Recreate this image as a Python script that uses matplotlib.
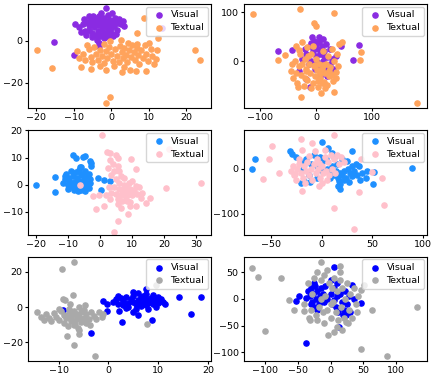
import numpy as np
import matplotlib
matplotlib.use("Agg")
import matplotlib.pyplot as plt
from matplotlib.ticker import MultipleLocator

# colours per row: (visual, textual)
row_colors = [("#8A2BE2", "#FFA35C"), ("#1E90FF", "#FFC0CB"), ("#0000FF", "#A9A9A9")]

# ---- panel 1 (top left) ----
vis1 = np.array([
    (-6.5, 9), (-6, 7.5), (-5.8, 5.5), (-5.5, 10.5), (-5, 8), (-5, 4), (-4.5, 6.5), (-4.2, 11), (-4, 9),
    (-4, 3), (-3.5, 7.5), (-3.5, 5), (-3.2, 12), (-3, 10), (-3, 2.5), (-2.5, 8.5), (-2.5, 6), (-2.2, 4),
    (-2, 11), (-2, 1.5), (-1.5, 9.5), (-1.5, 7), (-1.2, 5), (-1, 3), (-0.8, 12.5), (-0.5, 8), (-0.3, 10),
    (0, 6), (0, 4), (0.5, 9), (0.8, 7), (1, 11), (1.5, 5.5), (1.8, 8.5), (2.5, 8), (3.2, 9.4), (3.5, 7),
    (-7.5, 8.3), (-7, 5), (-8, 4.5), (-9.6, 8.3), (-6.8, 3), (-5.2, 1.8), (-4.8, 12), (-3.8, 0.5),
    (-3.2, -1), (-3.3, -2.5), (-2.8, 13.5), (-1.5, 15.7), (0.2, 13.5), (-0.7, 2), (0.5, 2.5), (1.2, 3.5),
    (-6, 12), (-7.2, 10.5), (-15.2, -0.6), (-9.9, -6.5), (13.5, 6.2), (-8.5, 6.5), (2.2, 10.5)])
txt1 = np.array([
    (-19.8, -4.4), (-15.8, -12.9), (22.3, -4.4), (23.7, -9.2), (-1.5, -29.5), (-0.4, -26.7), (8.7, 11),
    (6.9, 3.8), (12.6, 1.4), (10, -1), (12.2, -4.1), (-8.1, -12.5), (-5.4, -13.2), (-1.5, -14), (2.9, -14.9),
    (5, -14), (6.5, -14.4), (9.3, -14.4), (-8.7, -8.1), (-0.2, 0), (2.5, 0.5), (-9.2, -5), (-7.5, -6),
    (-7, -9), (-6, -4), (-5.5, -7.5), (-5, -10), (-4.5, -3), (-4, -6), (-3.5, -9), (-3, -4.5), (-2.5, -7),
    (-2, -10.5), (-1.5, -5), (-1, -8), (-0.5, -3), (0, -6), (0.5, -9.5), (1, -4), (1.5, -7), (2, -10),
    (2.3, -2.5), (2.8, -5.5), (3.2, -8), (3.5, -3.5), (4, -6.5), (4.2, -10), (4.8, -4.5), (5.2, -7.5),
    (5.5, -2), (6, -5.5), (6.3, -9), (6.8, -3.5), (7.2, -6.5), (7.5, -11), (8, -4.5), (8.5, -8), (9, -2),
    (9.3, -6), (9.8, -9.5), (10.5, -4), (11, -7), (12, -8.5), (11.5, -11), (-3, -12), (0.8, -12),
    (3.5, -12.5), (-6.5, -2), (-2, -1.5), (4.5, -1), (7, -1.5)])

# ---- panel 2 (top right) ----
vis2 = np.array([
    (-68, 20), (-43, 22), (77, 32), (67, 1.4), (-11, -52), (-18, -37), (-7, 49), (12, 45), (45, 30),
    (-10, 30), (-5, 20), (0, 35), (0, 10), (3, 25), (5, 40), (8, 15), (10, 30), (12, 0), (15, 20), (18, 35),
    (20, 8), (22, -10), (25, 25), (28, 5), (-15, 10), (-12, -5), (-8, 0), (-2, -15), (5, -8), (15, -20),
    (30, -15), (-20, 25), (-25, 5), (8, -30), (35, 10), (-3, 42), (14, 10), (2, -2), (-18, 15), (20, -30),
    (-30, -20), (26, -5), (6, 50), (-8, 38)])
txt2 = np.array([
    (-113, 96.7), (-28, 106), (32.7, 99), (-3, 78), (0, 72), (181, -86), (-27, -73), (9, -64), (33, -63),
    (-68, 1.4), (-56, 12), (80, 18), (79, 3), (46, 38.5),
    (-45, -20), (-40, -35), (-38, 0), (-35, 30), (-33, -45), (-30, -10), (-28, 15), (-26, -28), (-24, 40),
    (-22, -50), (-20, 5), (-18, -15), (-16, 28), (-15, -38), (-12, -5), (-10, -25), (-8, 15), (-6, -45),
    (-4, -10), (-2, -30), (0, 5), (2, -18), (4, -52), (6, -5), (8, -35), (10, -15), (12, 20), (14, -42),
    (16, -25), (18, -5), (20, -48), (22, 10), (24, -30), (26, -12), (28, 25), (30, -40), (32, 0), (35, -22),
    (38, 15), (40, -10), (42, 35), (-42, -5), (-36, -25), (-30, 22), (-25, -5), (-20, -35), (-14, 10),
    (-9, -55), (-5, 30), (3, -40), (7, -25), (13, -8), (17, -55), (23, -20), (29, -28), (-1, -8), (11, -45),
    (-32, -52), (36, -35), (-17, -20)])

# ---- panel 3 (middle left) ----
vis3 = np.array([
    (-19.8, 0), (-14.1, 2.8), (-14.1, -2.8), (-8.5, 11.1), (-7.6, 9.9), (-5.4, 10.2), (-4.6, 10.7),
    (-3.1, 8.6), (-2.7, 7.8), (-2.8, 6.8), (-0.7, 2.5), (0.3, -1.9), (1.3, 1.6), (3.1, 1.2), (-6.2, 6.5),
    (-3.1, 0.6), (-4.5, -2.5), (-3.5, -1.2),
    (-11, 2), (-10.5, 4), (-10, 0), (-10, -1.5), (-9.5, 2.5), (-9, 5), (-9, -0.5), (-8.5, 3), (-8, 1),
    (-8, -2), (-7.5, 4.5), (-7.5, 0.5), (-7, 2.5), (-7, -1), (-6.5, 5.5), (-6.5, 1.5), (-6, 3.5), (-6, -2),
    (-5.5, 0.5), (-5.5, 4), (-5, 2), (-5, -1), (-4.5, 5), (-4.5, 1), (-4, 3), (-4, -0.5), (-3.5, 4), (-3, 2),
    (-8.5, -1), (-9.5, 1), (-11.5, 0.5), (-10.8, 3), (-5.8, 6.5), (-6.8, -2.3)])
txt3 = np.array([
    (0.5, 18.3), (21.4, 13.2), (20.6, -1.2), (31.4, 0.6), (9.6, 9.3), (11.1, 5.6), (2.1, 12), (3.1, 11.5),
    (4.9, 11.1), (5.5, 9.9), (-2.3, -4.3), (-1.2, -9), (-0.2, -3.7), (4.4, -17.7), (5.5, -13.3), (8.6, -10.7),
    (9.3, -8), (11.1, -8), (12.7, -4.9), (14.4, -6.8), (15.6, -4.9), (11.1, -0.6), (-6.2, 0), (1.3, -7.8),
    (3, 9), (4, 7.5), (2.5, 6), (4.5, 5), (3.5, 3.5), (5.5, 7), (6, 5), (6.5, 3), (5, 2), (2.8, -1),
    (3.5, -3), (2, -4),
    (4.5, -1), (5, -3.5), (5.5, -5.5), (6, -1.5), (6.5, -4), (7, -2), (7, -6), (7.5, 0), (7.5, -3),
    (8, -4.5), (8, -1), (8.5, -2.5), (8.5, -6), (9, 0.5), (9, -3.5), (9.5, -1.5), (10, -4), (10.5, -2),
    (10, 1.5), (6, 0.5), (11.5, -3.5), (12, -1), (7.5, 2.5), (5.5, -7), (3, -5.5), (9.5, -6.5), (6.5, -8.5),
    (13, -3)])

# ---- panel 4 (middle right) ----
vis4 = np.array([
    (-69, -0.7), (-66, 20), (-31.6, 38), (-29, 33), (0.7, 58), (6, 45.6), (10.5, 34.6), (30, 38), (25, 16),
    (17, -28), (18, -46), (18, -35), (52, -7), (51, -35), (88.5, 1.5), (-20.7, -31.6), (-17, -28), (-11, -30),
    (37, 6.6), (40, -9.6), (44, -20.6), (30, -17),
    (-25, 25), (-20, 15), (-15, 20), (-10, 10), (-5, 5), (0, 15), (0, -5), (5, 0), (8, -10), (10, 5),
    (12, -15), (14, -5), (16, -20), (18, -10), (20, -15), (22, -5), (24, -20), (26, 0), (28, -10), (32, -5),
    (35, -15), (15, 10), (20, 20), (-2, 25), (4, 20), (-12, -15), (-5, -20), (22, -25), (12, 25), (30, 5),
    (45, -5), (38, -25), (8, -20), (-18, 0), (27, -30), (34, 10), (-8, 30), (16, -38)])
txt4 = np.array([
    (-57.6, -22.8), (-52, 21), (-48.7, 49), (-42, -9.6), (-20.7, 66), (12.2, 73.5), (-19, -48.5),
    (12.2, -88), (32, -133), (37, -52), (61.5, -81), (59, -20.6), (50, -8), (39, 20), (-9, 56.6), (-19, 42),
    (-2.6, -37.5), (0.7, -31.6),
    (-30, -5), (-28, 5), (-27, -15), (-25, -25), (-24, 0), (-22, 10), (-20, -10), (-18, -20), (-17, 5),
    (-15, -5), (-14, 15), (-12, -15), (-10, 0), (-9, -25), (-8, 10), (-6, -10), (-5, 20), (-4, 0), (-2, -20),
    (0, 5), (1, -10), (3, 25), (4, -5), (6, 15), (7, -15), (9, 30), (10, 0), (12, 20), (13, -10), (15, 30),
    (17, 10), (19, 25), (22, 15), (-12, 28), (-7, 38), (-22, 22), (3, 40), (-16, -32), (5, -25), (-26, -12),
    (-3, 12)])

# ---- panel 5 (bottom left) ----
vis5 = np.array([
    (18.7, 5.7), (14.1, 5.7), (16.5, -4.2), (-1.1, 3.4), (-0.3, 1.9), (-0.3, -2.3), (2.8, -8.5), (2.1, -2.3),
    (6, -4.7), (8.7, -7.2), (-3.5, -14.5), (-9.2, -1.9), (7.6, 10.4), (4.9, 8.5), (11.3, 1.9),
    (1, 3), (1.5, 4.5), (2, 2), (2.5, 5), (3, 3.5), (3, 1), (3.5, 6), (4, 2.5), (4, 0), (4.5, 4.5), (5, 3),
    (5, 6.5), (5.5, 1.5), (5.5, -1), (6, 4), (6, 2), (6.5, 5.5), (6.5, 0.5), (7, 3), (7, 6.5), (7.5, 1),
    (7.5, 4.5), (8, 2.5), (8, -1), (8.5, 5), (8.5, 3.5), (9, 1.5), (9.5, 4), (9.5, 0), (10, 2.5), (10.5, 4.5),
    (11, 3), (6, 8), (7.5, 7.5), (9, 7), (3.5, -0.5), (5, -2.5), (10, 6), (2, 6.5)])
txt5 = np.array([
    (-6.9, 25.5), (-9.4, 21.7), (-9.2, 4.7), (-7.2, 6.6), (-8.4, -16.6), (-6.9, -21.7), (-2.7, -27.9),
    (-5.9, -13.2), (-6, -15), (-14.4, -2.8), (-13.5, -5.7), (-1, -3.8), (-1.4, -5.7), (7.8, -9.4),
    (9.5, 12.3), (-8.8, 4),
    (-12.5, -4), (-12, -6), (-11, -3.5), (-10.5, -5.5), (-10, -7.5), (-9.5, -2), (-9, -4.5), (-9, -9),
    (-8.5, -6), (-8, -1), (-8, -3.5), (-7.5, -8), (-7.5, -5), (-7, -2), (-7, -10), (-6.5, -4), (-6.5, -7),
    (-6, 0), (-6, -5.5), (-5.5, -3), (-5.5, -8.5), (-5, -6), (-5, -1.5), (-4.5, -4), (-4.5, -9), (-4, -6.5),
    (-3.5, -2.5), (-3, -5), (-2.5, -7), (-2, -3), (-11.5, -8), (-10, -1), (-8.2, -11), (-6.2, -12),
    (-3.8, -10), (-7.8, 1.5), (-4.8, 1), (-13, -7.5), (-6.8, -9.5)])

# ---- panel 6 (bottom right) ----
vis6 = np.array([
    (-36.7, -83.5), (-52, -3), (-48.4, 5), (5, 59.5), (47, -7.6), (12.7, -52), (33, 27), (-25.5, 30),
    (19, -30),
    (-35, 15), (-32, 5), (-30, 20), (-28, -5), (-26, 10), (-24, 25), (-22, 0), (-20, 15), (-18, -10),
    (-16, 5), (-15, 20), (-12, 10), (-10, -5), (-8, 25), (-5, 0), (0, 10), (2, -10), (5, 20), (8, -15),
    (10, 5), (12, -25), (15, 10), (18, -5), (20, -20), (22, 15), (25, -10), (28, 5), (30, -25), (-30, -10),
    (-20, -20), (-14, -2), (0, 35), (10, 30), (-38, 2), (24, -30), (35, 0), (-25, -15), (6, -2)])
txt6 = np.array([
    (-120, 59), (-110, 42), (-75, 39), (-100, -61), (-64, -1), (-56, -21.5), (132, -15), (86.6, -107.6),
    (46, -94), (62.6, -21.5), (51, 27), (46, 16), (-14, 69.6), (14.3, 62), (-3.6, -67.7), (5, -62.7),
    (18, -58), (-40.7, -23.4), (-33, -36), (-20, -39), (-10, -45.6), (10, -52), (24, -42.4),
    (-40, -10), (-35, 30), (-30, -20), (-25, 40), (-22, -30), (-18, -15), (-15, 35), (-12, -25), (-10, 45),
    (-8, 5), (-5, -20), (-3, 30), (0, -35), (2, 20), (4, -5), (6, 40), (8, -25), (10, 15), (12, -40),
    (14, 35), (16, -15), (18, 20), (20, -35), (22, 0), (25, 30), (28, -20), (30, 10), (32, -35), (35, 20),
    (38, -10), (40, -25), (-28, 10), (-20, 50), (-5, 55), (15, 50), (-32, -40), (0, -10), (-15, 0), (42, 5),
    (27, -45)])

panels = [(vis1, txt1), (vis2, txt2), (vis3, txt3), (vis4, txt4), (vis5, txt5), (vis6, txt6)]
xlims = [(-22.2, 26.6), (-128.6, 198), (-22.4, 34.5), (-76.6, 103.6), (-16.2, 20.6), (-132, 146.6)]
ylims = [(-32.2, 17.8), (-96, 117), (-18.5, 20.1), (-145.6, 84.6), (-30.6, 28.7), (-116.5, 79.7)]
xsteps = [10, 100, 10, 50, 10, 50]
ysteps = [20, 100, 10, 100, 20, 50]

fig, axes = plt.subplots(3, 2, figsize=(4.36, 3.82), dpi=100)
plt.subplots_adjust(left=0.064, right=0.979, top=0.99, bottom=0.055, wspace=0.18, hspace=0.21)

for i, ax in enumerate(axes.flat):
    vis, txt = panels[i]
    cv, ct = row_colors[i // 2]
    ax.scatter(vis[:, 0], vis[:, 1], s=14, color=cv, label="Visual")
    ax.scatter(txt[:, 0], txt[:, 1], s=14, color=ct, label="Textual")
    ax.set_xlim(xlims[i])
    ax.set_ylim(ylims[i])
    ax.xaxis.set_major_locator(MultipleLocator(xsteps[i]))
    ax.yaxis.set_major_locator(MultipleLocator(ysteps[i]))
    ax.tick_params(labelsize=6.8, length=2.5, pad=1.2)
    ax.legend(loc="upper right", fontsize=6.8, handletextpad=0.2, borderpad=0.4, labelspacing=0.4,
              borderaxespad=0.3)

fig.savefig("out.png", dpi=100)
